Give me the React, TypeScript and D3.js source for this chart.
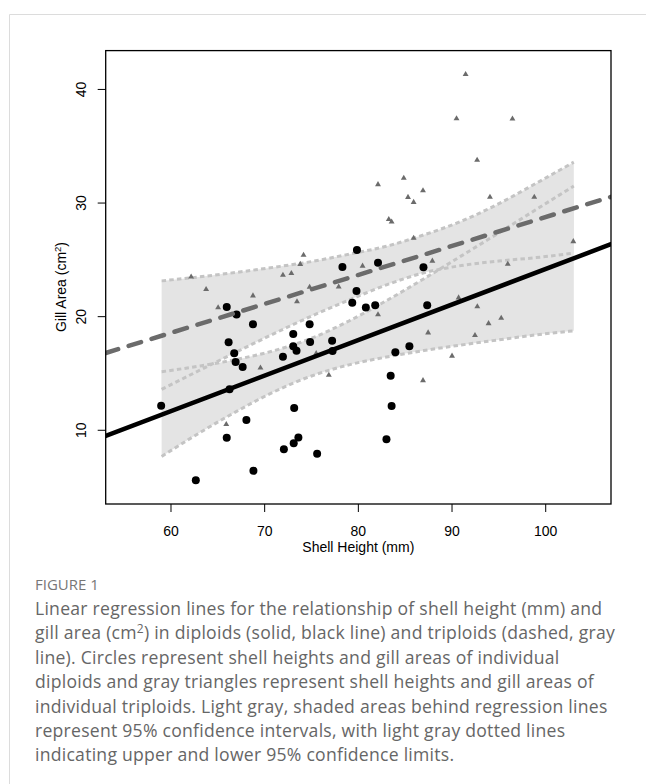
import React from 'react';
import * as d3 from 'd3';

const width = 646;
const height = 784;

// diploids (circles)
const diploidX = [58.95, 62.65, 65.95, 66.15, 67.0, 66.75, 66.9, 67.65, 66.25, 65.95, 68.05, 68.75, 68.8, 71.95, 72.05, 73.05, 73.05, 73.4, 73.15, 73.1, 73.6, 74.8, 74.85, 75.6, 77.2, 77.25, 78.3, 79.85, 79.8, 79.35, 80.8, 81.8, 82.1, 83.0, 83.45, 83.55, 83.95, 85.45, 86.95, 87.35];
const diploidY = [12.15, 5.6, 20.85, 17.75, 20.2, 16.78, 16.02, 15.57, 13.62, 9.35, 10.9, 19.33, 6.43, 16.48, 8.33, 18.47, 17.4, 17.0, 11.95, 8.85, 9.37, 19.33, 17.77, 7.93, 17.87, 16.98, 24.37, 25.86, 22.27, 21.22, 20.8, 21.0, 24.75, 9.22, 14.81, 12.14, 16.86, 17.39, 24.34, 21.0];

// triploids (triangles)
const triploidX = [62.15, 63.75, 65.03, 65.9, 68.75, 69.55, 71.95, 72.85, 73.45, 73.8, 74.15, 74.8, 75.5, 76.85, 77.9, 80.45, 82.1, 82.1, 83.25, 83.55, 84.85, 85.3, 85.9, 85.9, 86.9, 86.9, 87.45, 87.9, 90.0, 90.48, 90.7, 91.45, 92.45, 92.7, 92.68, 93.9, 94.05, 95.25, 95.95, 96.45, 98.78, 102.95];
const triploidY = [23.5, 22.4, 20.8, 10.52, 21.84, 15.5, 23.66, 23.81, 21.33, 24.62, 25.42, 22.6, 16.76, 14.86, 22.63, 24.46, 31.64, 20.18, 28.56, 28.34, 32.2, 30.51, 30.07, 26.91, 31.1, 14.38, 18.59, 24.9, 16.54, 37.44, 21.67, 41.33, 18.35, 20.88, 33.78, 19.4, 30.52, 19.88, 24.63, 37.41, 30.52, 26.62];

// fitted lines, values at the plot edges
const fitX = [53.03, 106.97];
const diploidFit = [9.5, 26.38];
const triploidFit = [16.8, 30.55];

// 95% confidence limits
const ciX = [59, 63, 67, 71, 75, 79, 83, 87, 91, 95, 99, 103];
const diploidUpper = [15.15, 15.65, 16.24, 17.01, 18.1, 19.62, 21.41, 23.34, 25.35, 27.38, 29.44, 31.5];
const diploidLower = [7.7, 9.75, 11.66, 13.39, 14.78, 15.76, 16.45, 17.02, 17.51, 17.96, 18.4, 18.75];
const triploidUpper = [23.15, 23.5, 23.9, 24.35, 24.85, 25.5, 26.2, 27.2, 28.4, 29.95, 31.75, 33.6];
const triploidLower = [13.6, 15.26, 16.9, 18.51, 20.05, 21.46, 22.8, 23.86, 24.5, 24.9, 25.2, 25.6];

const xTicks = [60, 70, 80, 90, 100];
const yTicks = [10, 20, 30, 40];

const captionLines = [
  'Linear regression lines for the relationship of shell height (mm) and',
  'gill area (cm^2) in diploids (solid, black line) and triploids (dashed, gray',
  'line). Circles represent shell heights and gill areas of individual',
  'diploids and gray triangles represent shell heights and gill areas of',
  'individual triploids. Light gray, shaded areas behind regression lines',
  'represent 95% confidence intervals, with light gray dotted lines',
  'indicating upper and lower 95% confidence limits.',
];

const box = { left: 105.7, right: 611, top: 50.6, bottom: 504 };
const x = d3.scaleLinear().domain([53.03, 106.97]).range([box.left, box.right]);
const y = d3.scaleLinear().domain([3.51, 43.42]).range([box.bottom, box.top]);

const axisFont = '"Liberation Sans", Arial, sans-serif';
const captionFont = '"Open Sans", Lato, sans-serif';

const band = (lo, hi) =>
  d3
    .area()
    .x((d, i) => x(ciX[i]))
    .y0((d, i) => y(lo[i]))
    .y1((d, i) => y(hi[i]))
    .curve(d3.curveMonotoneX)(ciX);

const limit = vals =>
  d3
    .line()
    .x((d, i) => x(ciX[i]))
    .y((d, i) => y(vals[i]))
    .curve(d3.curveMonotoneX)(ciX);

const fitLine = vals =>
  d3
    .line()
    .x((d, i) => x(fitX[i]))
    .y((d, i) => y(vals[i]))(fitX);

const tri = d3.symbol().type(d3.symbolTriangle).size(15)();

function Sup({ text, size }) {
  const parts = text.split('^2');
  if (parts.length === 1) return <>{text}</>;
  return (
    <>
      {parts[0]}
      <tspan dy={-size * 0.35} fontSize={size * 0.68}>2</tspan>
      <tspan dy={size * 0.35}>{parts[1]}</tspan>
    </>
  );
}

export default function App() {
  const captionTop = 609;
  const lineGap = 24.4;
  const capSize = 17.6;
  return (
    <svg
      width={width}
      height={height}
      style={{ position: 'absolute', left: 0, top: 0, background: '#fff' }}
    >
      <defs>
        <clipPath id="plotClip">
          <rect x={box.left} y={box.top} width={box.right - box.left} height={box.bottom - box.top} />
        </clipPath>
      </defs>

      {/* card frame */}
      <line x1={9.5} x2={width} y1={14.5} y2={14.5} stroke="#dcdcdc" />
      <line x1={9.5} x2={9.5} y1={14.5} y2={height} stroke="#dcdcdc" />

      <g clipPath="url(#plotClip)">
        <path d={band(triploidLower, triploidUpper)} fill="#e4e4e4" />
        <path d={band(diploidLower, diploidUpper)} fill="#e4e4e4" />
        {[triploidUpper, triploidLower, diploidUpper, diploidLower].map((v, i) => (
          <path
            key={i}
            d={limit(v)}
            fill="none"
            stroke="#c4c4c4"
            strokeWidth={3}
            strokeDasharray="4.5,3.2"
          />
        ))}
        {triploidX.map((v, i) => (
          <path key={'t' + i} d={tri} transform={`translate(${x(v)},${y(triploidY[i])})`} fill="#6b6b6b" />
        ))}
        {diploidX.map((v, i) => (
          <circle key={'d' + i} cx={x(v)} cy={y(diploidY[i])} r={4} fill="#000" />
        ))}
        <path
          d={fitLine(triploidFit)}
          fill="none"
          stroke="#6b6b6b"
          strokeWidth={4.5}
          strokeLinecap="round"
          strokeDasharray="13,11"
        />
        <path d={fitLine(diploidFit)} fill="none" stroke="#000" strokeWidth={4.5} strokeLinecap="round" />
      </g>

      <rect
        x={box.left}
        y={box.top}
        width={box.right - box.left}
        height={box.bottom - box.top}
        fill="none"
        stroke="#000"
        strokeWidth={1.3}
      />

      <g fontFamily={axisFont} fontSize={14} fill="#000">
        {xTicks.map(t => (
          <g key={t}>
            <line x1={x(t)} x2={x(t)} y1={box.bottom} y2={box.bottom + 8} stroke="#000" />
            <text x={x(t)} y={536} textAnchor="middle">{t}</text>
          </g>
        ))}
        {yTicks.map(t => (
          <g key={t}>
            <line x1={box.left - 8} x2={box.left} y1={y(t)} y2={y(t)} stroke="#000" />
            <text transform={`translate(86,${y(t)}) rotate(-90)`} textAnchor="middle">{t}</text>
          </g>
        ))}
        <text x={(box.left + box.right) / 2} y={552} textAnchor="middle">Shell Height (mm)</text>
        <text transform="translate(66,287) rotate(-90)" textAnchor="middle">
          <Sup text="Gill Area (cm^2)" size={14} />
        </text>
      </g>

      <g fontFamily={captionFont} fill="#666">
        <text x={35} y={590} fontSize={15} fill="#777">FIGURE 1</text>
        {captionLines.map((l, i) => (
          <text
            key={i}
            x={35}
            y={captionTop + 6 + i * lineGap}
            fontSize={capSize}
            letterSpacing={0.25}
          >
            <Sup text={l} size={capSize} />
          </text>
        ))}
      </g>
    </svg>
  );
}
